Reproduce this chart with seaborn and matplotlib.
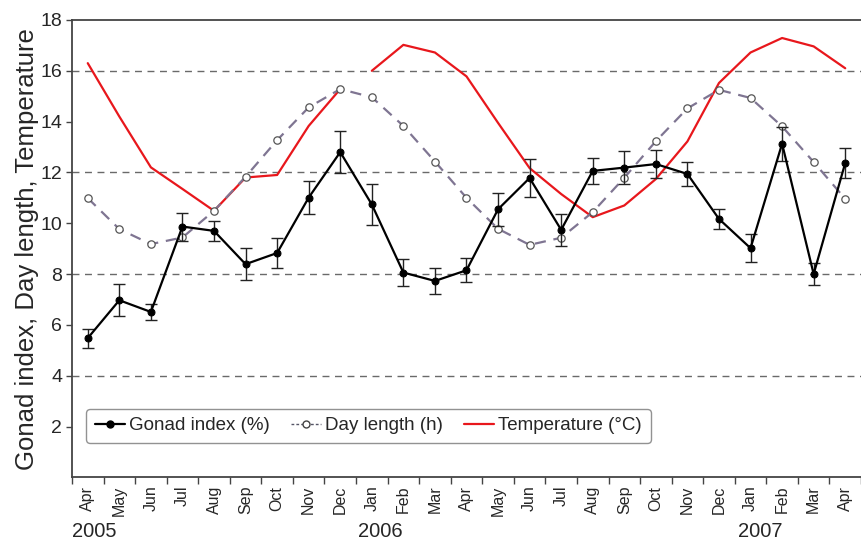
import numpy as np
import pandas as pd
import matplotlib
matplotlib.use("Agg")
import matplotlib.pyplot as plt
from matplotlib.lines import Line2D
import seaborn as sns

# months Apr 2005 .. Apr 2007
months = ['Apr', 'May', 'Jun', 'Jul', 'Aug', 'Sep', 'Oct', 'Nov', 'Dec',
          'Jan', 'Feb', 'Mar', 'Apr', 'May', 'Jun', 'Jul', 'Aug', 'Sep',
          'Oct', 'Nov', 'Dec', 'Jan', 'Feb', 'Mar', 'Apr']
years = ['2005', '2006', '2007']

gonad = [5.48, 6.97, 6.51, 9.87, 9.70, 8.39, 8.83, 11.01, 12.80,
         10.74, 8.06, 7.73, 8.15, 10.55, 11.78, 9.74, 12.06, 12.19,
         12.33, 11.94, 10.17, 9.02, 13.13, 8.00, 12.37]
gonad_err = [0.37, 0.63, 0.30, 0.55, 0.40, 0.64, 0.60, 0.65, 0.82,
             0.80, 0.54, 0.50, 0.48, 0.66, 0.76, 0.64, 0.50, 0.65,
             0.55, 0.47, 0.38, 0.55, 0.67, 0.42, 0.60]
day_length = [10.99, 9.77, 9.18, 9.44, 10.49, 11.83, 13.27, 14.56, 15.28,
              14.96, 13.83, 12.43, 11.00, 9.78, 9.15, 9.43, 10.44, 11.79,
              13.23, 14.52, 15.25, 14.93, 13.81, 12.41, 10.96]
temperature = [16.3, 14.2, 12.2, 11.35, 10.49, 11.8, 11.9, 13.83, 15.28,
               16.0, 17.02, 16.72, 15.78, 13.95, 12.17, 11.15, 10.24, 10.7,
               11.74, 13.22, 15.52, 16.72, 17.29, 16.96, 16.1]

df = pd.DataFrame({'idx': np.arange(len(months)), 'month': months,
                   'gonad': gonad, 'err': gonad_err,
                   'day': day_length, 'temp': temperature})
# temperature record is broken between Dec 2005 and Jan 2006
df['seg'] = np.where(df['idx'] < 9, 0, 1)

sns.set_style("white")
plt.rcParams['font.family'] = ['Liberation Sans', 'DejaVu Sans']

fig = plt.figure(figsize=(8.61, 5.41), dpi=100)
ax = fig.add_axes([0.0836, 0.1176, 0.9164, 0.8455])

# gridlines
for yv in [4, 8, 12, 16]:
    ax.axhline(yv, color='#6a6a6a', lw=1.0, ls=(0, (5, 4)), zorder=0)

# temperature
for s, sub in df.groupby('seg'):
    sns.lineplot(data=sub, x='idx', y='temp', ax=ax, color='#e8171c',
                 lw=1.6, zorder=2, legend=False)

# day length
sns.lineplot(data=df, x='idx', y='day', ax=ax, color='#7f7592', lw=1.6,
             dashes=False, zorder=3, legend=False)
ax.lines[-1].set_linestyle((0, (5, 3.5)))
ax.scatter(df['idx'], df['day'], s=28, facecolor='white',
           edgecolor='#555555', lw=0.9, zorder=4)

# gonad index
ax.errorbar(df['idx'], df['gonad'], yerr=df['err'], fmt='none',
            ecolor='#222222', elinewidth=1.0, capsize=4, capthick=1.0,
            zorder=5)
sns.lineplot(data=df, x='idx', y='gonad', ax=ax, color='black', lw=1.6,
             marker='o', markersize=5, markeredgecolor='black', zorder=6,
             legend=False)

ax.set_xlim(-0.5, 24.35)
ax.set_ylim(0, 18)
ax.set_yticks([2, 4, 6, 8, 10, 12, 14, 16, 18])
ax.tick_params(axis='y', labelsize=14, length=4, width=1, color='#444444',
               direction='out', left=True, pad=3)
ax.set_xticks(np.arange(-0.5, 25.0, 1.0))
ax.set_xticklabels([])
ax.set_xticks(df['idx'], minor=True)
ax.set_xticklabels(months, minor=True, rotation=90, fontsize=11.5)
ax.tick_params(axis='x', which='major', length=5, width=1,
               color='#444444', direction='out', bottom=True)
ax.tick_params(axis='x', which='minor', length=0, pad=6)

ax.set_xlabel('')
ax.set_ylabel('Gonad index, Day length, Temperature', fontsize=18.5,
              labelpad=1)

for side in ['left', 'bottom', 'top']:
    ax.spines[side].set_color('#444444')
    ax.spines[side].set_linewidth(1.3)
ax.spines['right'].set_visible(False)

# year labels
for pos, yr in zip([0.22, 9.26, 21.3], years):
    ax.text(pos, -0.118, yr, transform=ax.get_xaxis_transform(),
            ha='center', va='center', fontsize=14.5)

handles = [
    Line2D([], [], color='black', lw=1.6, marker='o', markersize=5),
    Line2D([], [], color='#555566', lw=1.0, ls=(0, (2, 1.5)), marker='o',
           markersize=5, markerfacecolor='white', markeredgecolor='#444444'),
    Line2D([], [], color='#e8171c', lw=1.6),
]
leg = ax.legend(handles, ['Gonad index (%)', 'Day length (h)',
                          'Temperature (°C)'],
                ncol=3, loc='lower left', bbox_to_anchor=(0.006, 0.055),
                fontsize=13.5, frameon=True, fancybox=True,
                handlelength=1.6, handletextpad=0.25, columnspacing=1.1,
                borderpad=0.45)
leg.get_frame().set_edgecolor('#777777')
leg.get_frame().set_linewidth(1.0)

fig.savefig('out.png', dpi=100)
